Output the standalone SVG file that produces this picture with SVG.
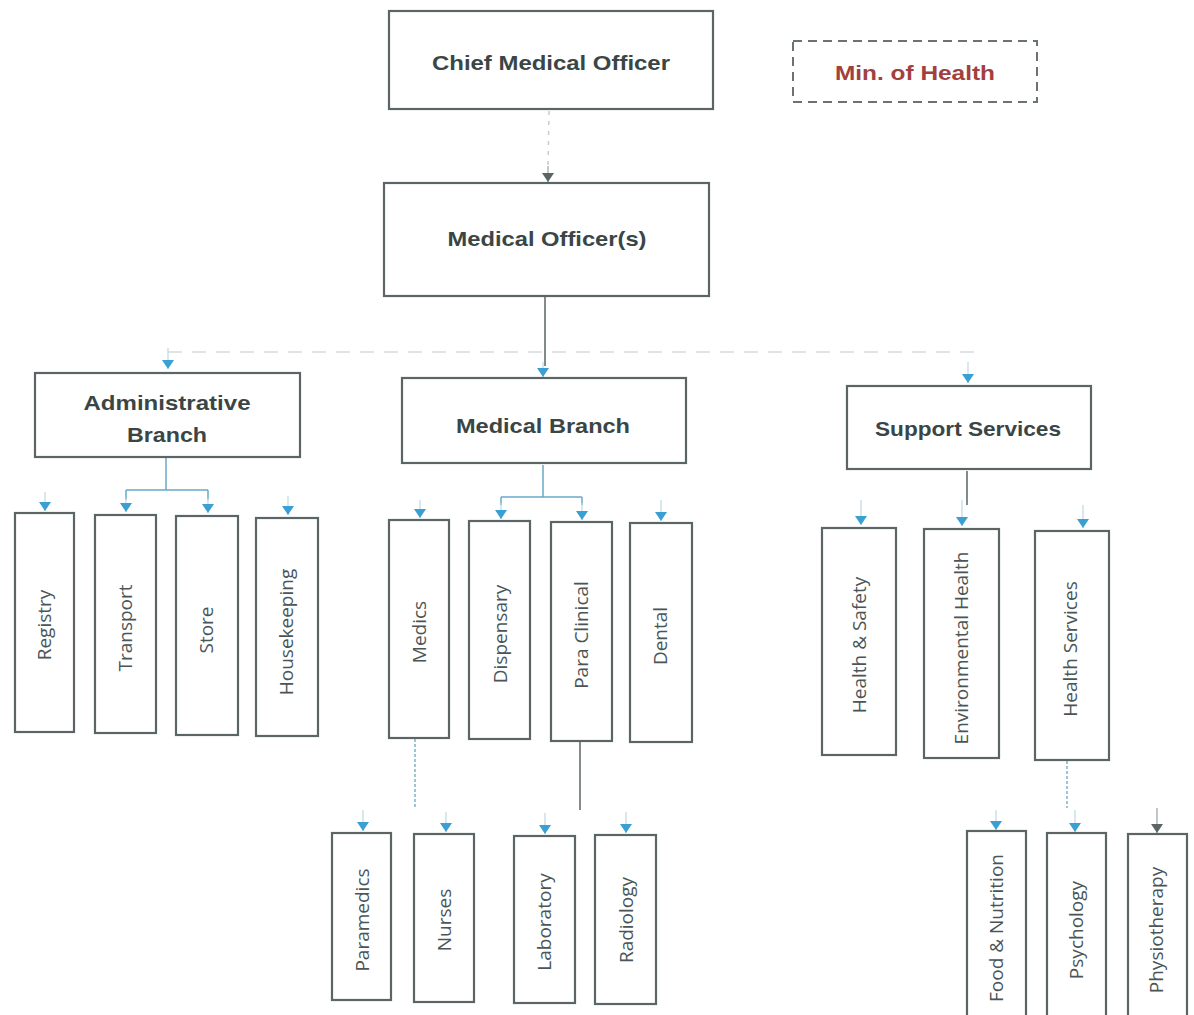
<svg xmlns="http://www.w3.org/2000/svg" width="1194" height="1015" viewBox="0 0 1194 1015">
<defs>
<style>
.box{fill:#fff;stroke:#5b6565;stroke-width:2.2}
.dash{fill:#fff;stroke:#6a7272;stroke-width:2;stroke-dasharray:9 6}
.t{font-family:"Liberation Sans",Arial,sans-serif;font-weight:bold;fill:#3a4646;text-anchor:middle}
.v{font-family:"Open Sans","Liberation Sans",sans-serif;font-size:19px;fill:#4a5656;text-anchor:middle}
.ln{fill:none;stroke:#5b6565;stroke-width:1.5}
.lb{fill:none;stroke:#6aa9c8;stroke-width:1.5}
.fa{fill:none;stroke:#d8dcdc;stroke-width:1.5;stroke-dasharray:14 10}
.ab{fill:none;stroke:#bcd8e6;stroke-width:1.2;marker-end:url(#mb)}
.ag{fill:none;stroke:#9aa2a2;stroke-width:1.2;marker-end:url(#mg)}
</style>
<marker id="mb" viewBox="0 0 9 12" refX="9" refY="6" markerWidth="9" markerHeight="12" markerUnits="userSpaceOnUse" orient="auto">
<path d="M0,0 L9,6 L0,12 Z" fill="#3a9fd2"/>
</marker>
<marker id="mg" viewBox="0 0 9 12" refX="9" refY="6" markerWidth="9" markerHeight="12" markerUnits="userSpaceOnUse" orient="auto">
<path d="M0,0 L9,6 L0,12 Z" fill="#5b6565"/>
</marker>
</defs>
<rect width="1194" height="1015" fill="#fff"/>

<g id="connectors">
<line x1="549" y1="111" x2="548" y2="170" stroke="#c8cccc" stroke-width="1.5" stroke-dasharray="4 6"/>
<path d="M548,166 V182" class="ag"/>
<path d="M545,297 V366" class="ln"/>
<path d="M543,362 V377" class="ab"/>
<path d="M168,352 H975" class="fa"/>
<path d="M168,348 V369" class="ab"/>
<path d="M968,362 V383" class="ab"/>
<!-- admin children -->
<path d="M166,458 V490 M126,490 H208 M126,490 V500 M208,490 V500" class="lb"/>
<path d="M126,498 V512" class="ab"/>
<path d="M208,498 V513" class="ab"/>
<path d="M45,492 V511" class="ab"/>
<path d="M288,496 V515" class="ab"/>
<!-- medical children -->
<path d="M543,465 V497 M501,497 H582 M501,497 V505 M582,497 V505" class="lb"/>
<path d="M501,503 V519" class="ab"/>
<path d="M582,503 V520" class="ab"/>
<path d="M420,500 V518" class="ab"/>
<path d="M661,500 V521" class="ab"/>
<!-- support children -->
<path d="M967,471 V505" class="ln"/>
<path d="M962,500 V526" class="ab"/>
<path d="M861,500 V525" class="ab"/>
<path d="M1083,505 V528" class="ab"/>
<!-- medics children -->
<path d="M415,739 V808" fill="none" stroke="#7fb3c9" stroke-width="1.5" stroke-dasharray="3 2"/>
<path d="M363,810 V831" class="ab"/>
<path d="M446,812 V832" class="ab"/>
<!-- para clinical children -->
<path d="M580,742 V810" class="ln"/>
<path d="M545,813 V834" class="ab"/>
<path d="M626,812 V833" class="ab"/>
<!-- health services children -->
<path d="M1067,761 V808" fill="none" stroke="#7fb3c9" stroke-width="1.5" stroke-dasharray="3 2"/>
<path d="M996,810 V830" class="ab"/>
<path d="M1075,810 V832" class="ab"/>
<path d="M1157,808 V833" class="ag"/>
</g>

<g id="chief-medical-officer">
<rect x="389" y="11" width="324" height="98" class="box"/>
<text x="551" y="70" class="t" font-size="21" textLength="238" lengthAdjust="spacingAndGlyphs">Chief Medical Officer</text>
</g>
<g id="min-of-health">
<rect x="793" y="41" width="244" height="61" class="dash"/>
<text x="915" y="80" class="t" font-size="21" style="fill:#a2403e" textLength="160" lengthAdjust="spacingAndGlyphs">Min. of Health</text>
</g>
<g id="medical-officers">
<rect x="384" y="183" width="325" height="113" class="box"/>
<text x="547" y="246" class="t" font-size="21" textLength="199" lengthAdjust="spacingAndGlyphs">Medical Officer(s)</text>
</g>
<g id="administrative-branch">
<rect x="35" y="373" width="265" height="84" class="box"/>
<text x="167" y="410" class="t" font-size="21" textLength="167" lengthAdjust="spacingAndGlyphs">Administrative</text>
<text x="167" y="442" class="t" font-size="21" textLength="80" lengthAdjust="spacingAndGlyphs">Branch</text>
</g>
<g id="medical-branch">
<rect x="402" y="378" width="284" height="85" class="box"/>
<text x="543" y="433" class="t" font-size="21" textLength="174" lengthAdjust="spacingAndGlyphs">Medical Branch</text>
</g>
<g id="support-services">
<rect x="847" y="386" width="244" height="83" class="box"/>
<text x="968" y="436" class="t" font-size="21" textLength="186" lengthAdjust="spacingAndGlyphs">Support Services</text>
</g>

<g id="registry"><rect x="15" y="513" width="59" height="219" class="box"/><text class="v" transform="translate(51,625) rotate(-90)">Registry</text></g>
<g id="transport"><rect x="95" y="515" width="61" height="218" class="box"/><text class="v" transform="translate(132,628) rotate(-90)">Transport</text></g>
<g id="store"><rect x="176" y="516" width="62" height="219" class="box"/><text class="v" transform="translate(213,630) rotate(-90)">Store</text></g>
<g id="housekeeping"><rect x="256" y="518" width="62" height="218" class="box"/><text class="v" transform="translate(293,632) rotate(-90)">Housekeeping</text></g>

<g id="medics"><rect x="389" y="520" width="60" height="218" class="box"/><text class="v" transform="translate(426,632) rotate(-90)">Medics</text></g>
<g id="dispensary"><rect x="469" y="521" width="61" height="218" class="box"/><text class="v" transform="translate(507,634) rotate(-90)">Dispensary</text></g>
<g id="para-clinical"><rect x="551" y="522" width="61" height="219" class="box"/><text class="v" transform="translate(588,635) rotate(-90)">Para Clinical</text></g>
<g id="dental"><rect x="630" y="523" width="62" height="219" class="box"/><text class="v" transform="translate(667,636) rotate(-90)">Dental</text></g>

<g id="health-safety"><rect x="822" y="528" width="74" height="227" class="box"/><text class="v" transform="translate(866,645) rotate(-90)">Health &amp; Safety</text></g>
<g id="environmental-health"><rect x="924" y="529" width="75" height="229" class="box"/><text class="v" transform="translate(968,648) rotate(-90)">Environmental Health</text></g>
<g id="health-services"><rect x="1035" y="531" width="74" height="229" class="box"/><text class="v" transform="translate(1077,649) rotate(-90)">Health Services</text></g>

<g id="paramedics"><rect x="332" y="833" width="59" height="167" class="box"/><text class="v" transform="translate(369,920) rotate(-90)">Paramedics</text></g>
<g id="nurses"><rect x="414" y="834" width="60" height="168" class="box"/><text class="v" transform="translate(451,920) rotate(-90)">Nurses</text></g>
<g id="laboratory"><rect x="514" y="836" width="61" height="167" class="box"/><text class="v" transform="translate(551,922) rotate(-90)">Laboratory</text></g>
<g id="radiology"><rect x="595" y="835" width="61" height="169" class="box"/><text class="v" transform="translate(633,920) rotate(-90)">Radiology</text></g>

<g id="food-nutrition"><rect x="967" y="831" width="59" height="190" class="box"/><text class="v" transform="translate(1003,928) rotate(-90)">Food &amp; Nutrition</text></g>
<g id="psychology"><rect x="1047" y="833" width="59" height="190" class="box"/><text class="v" transform="translate(1083,930) rotate(-90)">Psychology</text></g>
<g id="physiotherapy"><rect x="1128" y="834" width="59" height="190" class="box"/><text class="v" transform="translate(1163,930) rotate(-90)">Physiotherapy</text></g>
</svg>
